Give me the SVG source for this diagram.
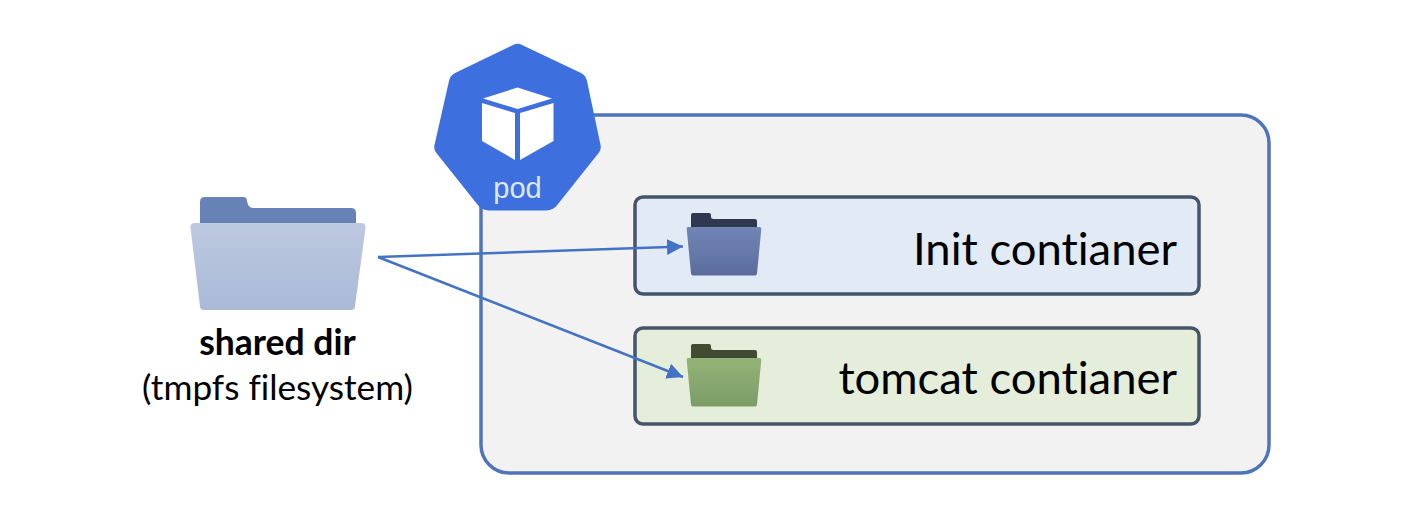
<svg xmlns="http://www.w3.org/2000/svg" width="1408" height="522" viewBox="0 0 1408 522">
<style>
.t{font-family:"Lato","Open Sans","DejaVu Sans",sans-serif;fill:#000;font-variant-ligatures:none}
.box{stroke:#44546a;stroke-width:3.500}
.c{fill:none;stroke:#4472c4;stroke-width:2.500;marker-end:url(#arr)}
</style>
<defs>
<marker id="arr" markerUnits="userSpaceOnUse" markerWidth="18" markerHeight="18" refX="16" refY="8" orient="auto"><path d="M0 0L16 8L0 16z" fill="#4472c4"/></marker>
<linearGradient id="g1" x1="0" y1="0" x2="0" y2="1"><stop offset="0" stop-color="#bdc9e0"/><stop offset="1" stop-color="#a9b9d6"/></linearGradient>
<linearGradient id="g2" x1="0" y1="0" x2="0" y2="1"><stop offset="0" stop-color="#7186b6"/><stop offset="1" stop-color="#5b6c9c"/></linearGradient>
<linearGradient id="g3" x1="0" y1="0" x2="0" y2="1"><stop offset="0" stop-color="#93b478"/><stop offset="1" stop-color="#7c9c67"/></linearGradient>
<path id="front" d="M1.500 0H73Q75 0 74.800 2L70.500 46.500Q70.300 48.500 68.500 48.500H6.500Q4.700 48.500 4.500 46.500L0.200 2Q0 0 1.500 0Z"/>
<path id="back" d="M4.500 1V-12Q4.500 -14 6.500 -14H22.500Q24.500 -14 24.500 -12V-10.500Q24.500 -8 27 -8H68.500Q70.500 -8 70.500 -6V1Z"/>
</defs>
<rect width="1408" height="522" fill="#fff"/>
<g id="pod-box"><rect x="481" y="115" width="788" height="358" rx="28" fill="#f2f2f2" stroke="#4f74bb" stroke-width="3.500"/></g>
<g id="pod">
<path d="M513 45Q517.500 42.500 522 45L581 73Q586 75.500 587 81L600.500 145Q601.500 149 599 152.500L558 204Q553.500 210.500 546 210.500H489Q482 210.500 477 204L436 152.500Q433.500 149 434.500 145L449 81Q450 75.500 455 73Z" fill="#3d6fdf"/>
<path d="M517.500 87.500L552 98.500L517.500 109L483 98.500Z" fill="#fff"/>
<path d="M482 103L515 113V160L482 141Z" fill="#fff"/>
<path d="M520 113L553.500 103V141L520 160Z" fill="#fff"/>
<text x="517.500" y="198" text-anchor="middle" style="font-family:'Liberation Sans',sans-serif;font-size:29px;fill:#dfe8fb">pod</text>
</g>
<g id="init">
<rect class="box" x="635" y="197" width="564" height="97" rx="8" fill="#e1eaf5"/>
<text class="t" x="1177" y="264.500" text-anchor="end" font-size="45.400">Init contianer</text>
<g transform="translate(686.500,227)"><use href="#back" fill="#2f384f"/><use href="#front" fill="url(#g2)"/></g>
</g>
<g id="tomcat">
<rect class="box" x="635" y="328" width="564" height="96" rx="8" fill="#e4eedb"/>
<text class="t" x="1177" y="393.500" text-anchor="end" font-size="45.400">tomcat contianer</text>
<g transform="translate(686.500,358)"><use href="#back" fill="#3f4c33"/><use href="#front" fill="url(#g3)"/></g>
</g>
<g id="shared">
<path d="M200 226V202Q200 197 205 197H243Q247 197 247 201Q248 208 253 208H351Q356 208 356 213V226Z" fill="#6782b4"/>
<path d="M195 223H361Q366 223 365.500 228L355 306Q355 310 351 310H204Q200 310 200 306L190.500 228Q190 223 195 223Z" fill="url(#g1)"/>
<text class="t" x="277.500" y="355" text-anchor="middle" font-size="35.500" font-weight="700">shared dir</text>
<text class="t" x="277.500" y="400" text-anchor="middle" font-size="35.200">(tmpfs filesystem)</text>
</g>
<g id="connectors">
<path class="c" d="M378 257L683 246.500"/>
<path class="c" d="M378 257L683 377"/>
</g>
</svg>
